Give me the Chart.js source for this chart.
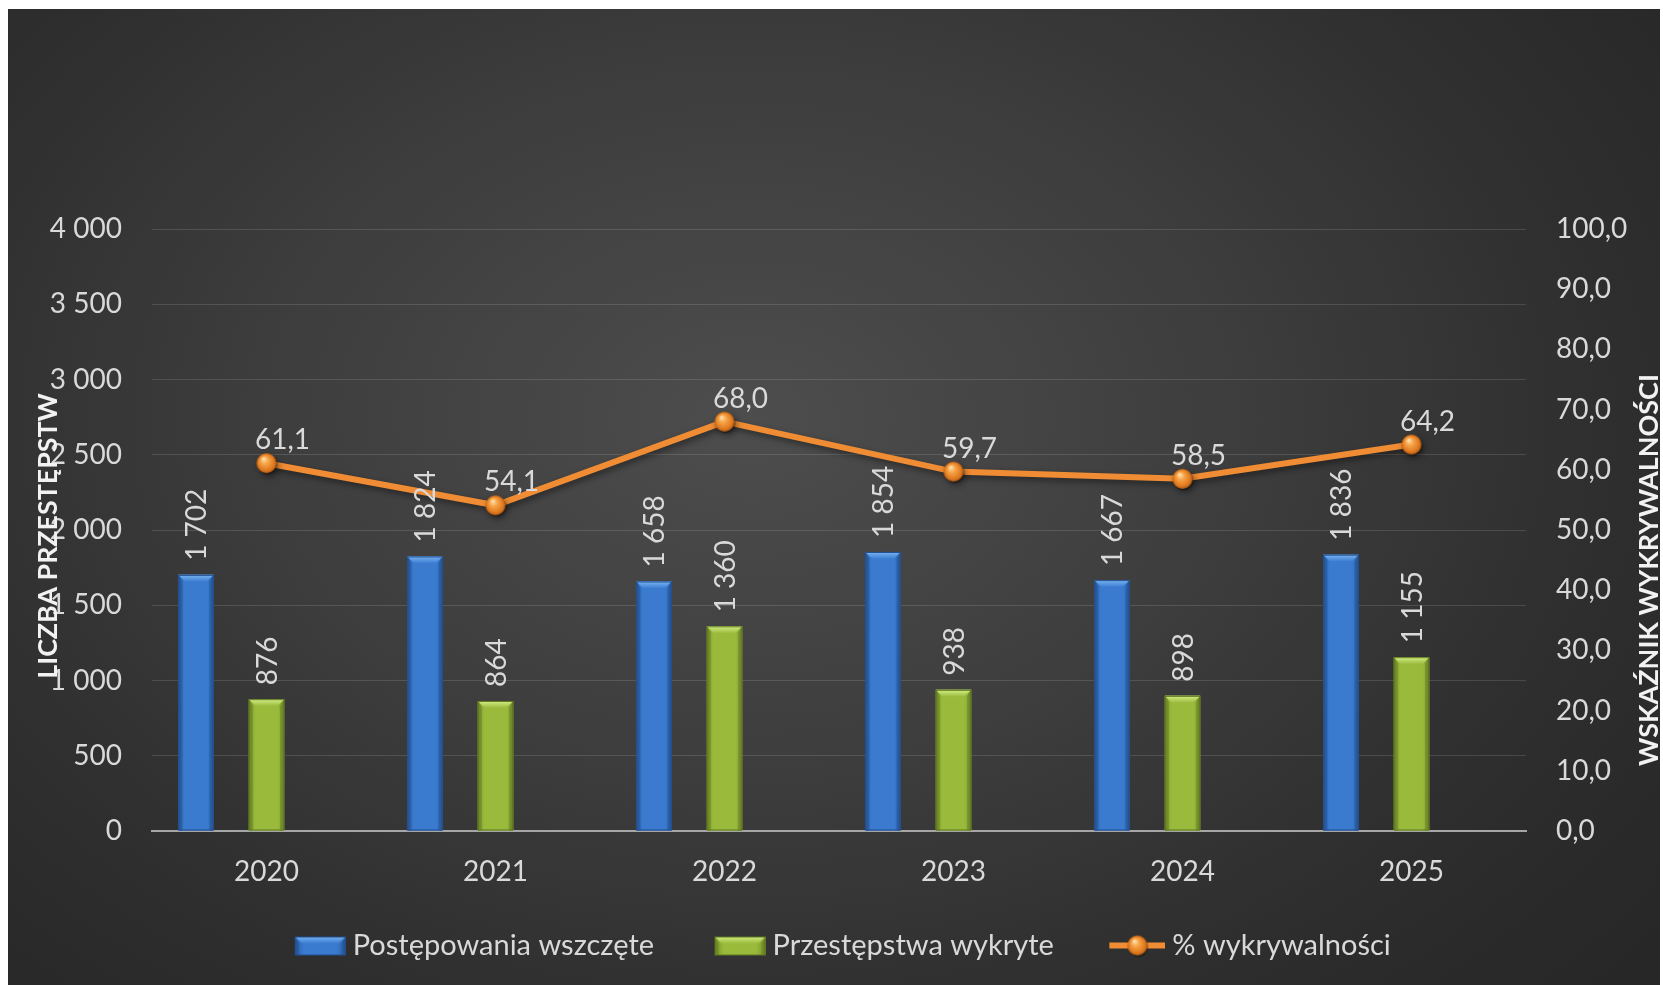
<!DOCTYPE html>
<html><head><meta charset="utf-8">
<script src="https://cdn.jsdelivr.net/npm/chart.js@4.4.0/dist/chart.umd.min.js"></script>
<style>
html,body{margin:0;padding:0;background:#fff;width:1663px;height:985px;overflow:hidden;}
#wrap{position:absolute;left:8px;top:9px;width:1652px;height:976px;
background:radial-gradient(ellipse 70% 85% at 45% 42%, #4d4d4d 0%, #3e3e3e 40%, #2e2e2e 75%, #272727 100%);}
canvas{display:block;}
</style></head><body>
<div id="wrap"><canvas id="c" width="1652" height="976"></canvas></div>
<script>
const categories = ['2020','2021','2022','2023','2024','2025'];
const postepowania = [1702,1824,1658,1854,1667,1836];
const wykryte = [876,864,1360,938,898,1155];
const wykrywalnosc = [61.1,54.1,68.0,59.7,58.5,64.2];
const leftTickLabels = ['0','500','1 000','1 500','2 000','2 500','3 000','3 500','4 000'];
const rightTickLabels = ['0,0','10,0','20,0','30,0','40,0','50,0','60,0','70,0','80,0','90,0','100,0'];
const seriesNames = ['Postępowania wszczęte','Przestępstwa wykryte','% wykrywalności'];
const leftTitle = 'LICZBA PRZESTĘPSTW';
const rightTitle = 'WSKAŹNIK WYKRYWALNOŚCI';

const FONT = 'Lato, "Open Sans", sans-serif';
const TXT = '#d9d9d9';
const BLUE = {main:'#3a7bd0', dark:'#2a5da6', light:'#7ab6f2', edge:'#234f8f'};
const GREEN = {main:'#9aba3c', dark:'#76922a', light:'#d4ef86', edge:'#5f7820'};
const ORANGE = '#f08c33';
const LEG_PW = 61;
const LEG_IMG_W = LEG_PW + 15;

function fmtThousands(v){ return String(v).replace(/\B(?=(\d{3})+(?!\d))/g,' '); }
function fmtPct(v){ return v.toFixed(1).replace('.',','); }

function drawBevel(ctx, x0, y0, x1, y1, c){
  const w = x1-x0, b = Math.min(7, w/4, (y1-y0)/2);
  const g = ctx.createLinearGradient(x0,0,x1,0);
  g.addColorStop(0,c.dark); g.addColorStop(0.18,c.main); g.addColorStop(0.5,c.main); g.addColorStop(0.82,c.main); g.addColorStop(1,c.dark);
  ctx.fillStyle = g; ctx.fillRect(x0,y0,w,y1-y0);
  const gt = ctx.createLinearGradient(0,y0,0,y0+b);
  gt.addColorStop(0,c.light); gt.addColorStop(1,c.main);
  ctx.fillStyle = gt;
  ctx.beginPath(); ctx.moveTo(x0,y0); ctx.lineTo(x1,y0); ctx.lineTo(x1-b,y0+b); ctx.lineTo(x0+b,y0+b); ctx.closePath(); ctx.fill();
  ctx.fillStyle = 'rgba(0,0,0,0.12)';
  ctx.beginPath(); ctx.moveTo(x0,y0); ctx.lineTo(x0+b*0.6,y0+b); ctx.lineTo(x0+b*0.6,y1); ctx.lineTo(x0,y1); ctx.closePath(); ctx.fill();
  ctx.beginPath(); ctx.moveTo(x1,y0); ctx.lineTo(x1-b*0.6,y0+b); ctx.lineTo(x1-b*0.6,y1); ctx.lineTo(x1,y1); ctx.closePath(); ctx.fill();
  ctx.strokeStyle = c.edge; ctx.lineWidth = 1; ctx.strokeRect(x0+0.5,y0+0.5,w-1,y1-y0-1);
}

function sphere(r){
  const c = document.createElement('canvas'); c.width = c.height = 2*r+4;
  const g = c.getContext('2d'); const cx = r+2, cy = r+2;
  g.fillStyle='rgba(0,0,0,0.35)'; g.beginPath(); g.arc(cx+1,cy+1.5,r,0,Math.PI*2); g.fill();
  const grd = g.createRadialGradient(cx-r*0.3, cy-r*0.45, r*0.05, cx, cy, r);
  grd.addColorStop(0,'#ffe2b0'); grd.addColorStop(0.35,'#f7a448'); grd.addColorStop(0.8,'#e07a20'); grd.addColorStop(1,'#b45a12');
  g.fillStyle = grd; g.beginPath(); g.arc(cx,cy,r,0,Math.PI*2); g.fill();
  return c;
}
function legendCanvas(){ const cv = document.createElement('canvas'); cv.width = LEG_IMG_W; cv.height = 24; return cv; }
function barIcon(c){
  const cv = legendCanvas(); const g = cv.getContext('2d');
  drawBevel(g, LEG_IMG_W-51, 3, LEG_IMG_W, 22, c); return cv;
}
function lineIcon(){
  const cv = legendCanvas(); const g = cv.getContext('2d');
  const x0 = LEG_IMG_W-56;
  g.strokeStyle = ORANGE; g.lineWidth = 6; g.beginPath(); g.moveTo(x0,12); g.lineTo(LEG_IMG_W,12); g.stroke();
  const s = sphere(10); g.drawImage(s, x0+28 - s.width/2, 12 - s.height/2);
  return cv;
}
const pointImg = sphere(10);
const legendIcons = [barIcon(BLUE), barIcon(GREEN), lineIcon()];

const bevelPlugin = {
  id:'bevel',
  afterDatasetDraw(chart, args){
    const i = args.index; if (i>1) return;
    const ctx = chart.ctx, c = i===0?BLUE:GREEN;
    ctx.save();
    args.meta.data.forEach(bar=>{
      const p = bar.getProps(['x','y','base','width'], true);
      if (p.y==null || isNaN(p.y)) return;
      drawBevel(ctx, p.x-p.width/2, p.y, p.x+p.width/2, p.base, c);
    });
    ctx.restore();
  }
};

const shadowPlugin = {
  id:'lineShadow',
  beforeDatasetDraw(chart, args){
    if (args.meta.type!=='line') return;
    const ctx = chart.ctx; ctx.save();
    ctx.shadowColor='rgba(0,0,0,0.45)'; ctx.shadowBlur=6; ctx.shadowOffsetX=2; ctx.shadowOffsetY=3;
  },
  afterDatasetDraw(chart, args){
    if (args.meta.type!=='line') return;
    chart.ctx.restore();
  }
};

const labelPlugin = {
  id:'valueLabels',
  afterDatasetsDraw(chart){
    const ctx = chart.ctx; ctx.save();
    ctx.fillStyle = TXT; ctx.font = '28px ' + FONT;
    [0,1].forEach(di=>{
      const meta = chart.getDatasetMeta(di);
      meta.data.forEach((bar,j)=>{
        const v = chart.data.datasets[di].data[j];
        ctx.save(); ctx.translate(bar.x, bar.y - 14); ctx.rotate(-Math.PI/2);
        ctx.textAlign='left'; ctx.textBaseline='middle';
        ctx.fillText(fmtThousands(v), 0, 1);
        ctx.restore();
      });
    });
    const lm = chart.getDatasetMeta(3);
    lm.data.forEach((pt,j)=>{
      const v = chart.data.datasets[3].data[j];
      ctx.textAlign='center'; ctx.textBaseline='alphabetic';
      ctx.fillText(fmtPct(v), pt.x + 16, pt.y - 14);
    });
    ctx.restore();
  }
};

const titlePlugin = {
  id:'axisTitles',
  afterDraw(chart){
    const ctx = chart.ctx; ctx.save();
    ctx.fillStyle = '#f2f2f2';
    function draw(text, x, y, targetW){
      ctx.font = 'bold 30px ' + FONT;
      const w = ctx.measureText(text).width;
      const size = 30 * targetW / w;
      ctx.font = 'bold ' + size.toFixed(1) + 'px ' + FONT;
      ctx.save(); ctx.translate(x,y); ctx.rotate(-Math.PI/2);
      ctx.textAlign='center'; ctx.textBaseline='middle';
      ctx.fillText(text,0,0); ctx.restore();
    }
    draw(leftTitle, 40, 527, 286);
    draw(rightTitle, 1641, 561, 392);
    ctx.restore();
  }
};

new Chart(document.getElementById('c'), {
  type:'bar',
  data:{
    labels: categories,
    datasets:[
      {label:seriesNames[0], data:postepowania, backgroundColor:BLUE.main, yAxisID:'y', order:1},
      {label:seriesNames[1], data:wykryte, backgroundColor:GREEN.main, yAxisID:'y', order:1},
      {label:'', data:categories.map(()=>null), backgroundColor:'rgba(0,0,0,0)', yAxisID:'y', order:1},
      {label:seriesNames[2], type:'line', data:wykrywalnosc, yAxisID:'y1', order:0,
       borderColor:ORANGE, borderWidth:6, pointStyle:pointImg, pointRadius:10, pointHoverRadius:10,
       backgroundColor:ORANGE, tension:0}
    ]
  },
  options:{
    responsive:false, animation:false,
    categoryPercentage:0.924, barPercentage:0.503,
    layout:{padding:{left:0,right:0,top:220,bottom:15}},
    plugins:{
      tooltip:{enabled:false},
      legend:{
        position:'bottom',
        labels:{
          usePointStyle:true, pointStyleWidth:LEG_PW, boxHeight:20,
          color:TXT, font:{size:29, family:FONT}, padding:43,
          generateLabels(chart){
            const items = Chart.defaults.plugins.legend.labels.generateLabels(chart)
              .filter(it=>it.text!=='');
            items.sort((a,b)=>a.datasetIndex-b.datasetIndex);
            items.forEach(it=>{
              const k = seriesNames.indexOf(it.text);
              it.pointStyle = legendIcons[k]; it.fontColor = TXT;
            });
            return items;
          }
        }
      }
    },
    scales:{
      x:{
        grid:{display:false, drawTicks:false},
        border:{display:true, color:'#a6a6a6', width:2},
        ticks:{color:TXT, font:{size:28, family:FONT}, padding:24},
        afterFit(s){ s.height = 57; }
      },
      y:{
        position:'left', min:0, max:4000,
        grid:{color:'rgba(255,255,255,0.13)', lineWidth:1, drawTicks:false},
        border:{display:false},
        ticks:{stepSize:500, color:TXT, font:{size:28, family:FONT}, padding:30,
          callback:(v)=> leftTickLabels[Math.round(v/500)]},
        afterFit(s){ s.width = 144; }
      },
      y1:{
        position:'right', min:0, max:100,
        grid:{display:false, drawTicks:false},
        border:{display:false},
        ticks:{stepSize:10, color:TXT, font:{size:28, family:FONT}, padding:30,
          callback:(v)=> rightTickLabels[Math.round(v/10)]},
        afterFit(s){ s.width = 134; }
      }
    }
  },
  plugins:[bevelPlugin, shadowPlugin, labelPlugin, titlePlugin]
});
</script>
</body></html>
